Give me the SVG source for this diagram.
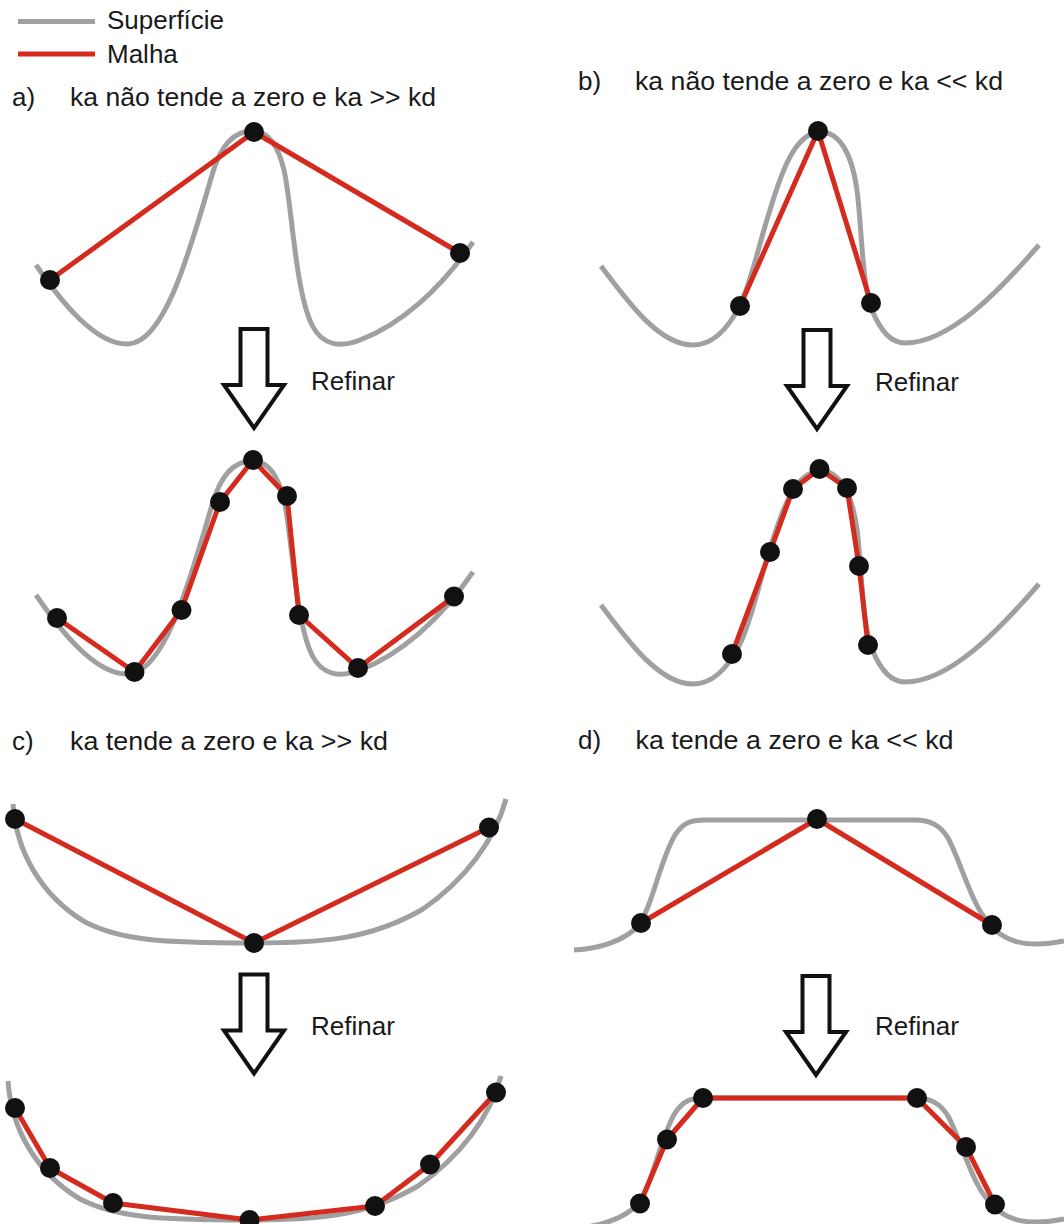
<svg xmlns="http://www.w3.org/2000/svg" width="1064" height="1224" viewBox="0 0 1064 1224">
<defs>
<style>
.surf{fill:none;stroke:#a0a0a0;stroke-width:5;stroke-linejoin:round}
.mesh{fill:none;stroke:#d52b1e;stroke-width:5;stroke-linejoin:round;stroke-linecap:round}
.dot{fill:#111111}
.txt{font-family:"Liberation Sans",Arial,Helvetica,sans-serif;font-size:26px;fill:#1a1a1a}
.arrow{fill:#ffffff;stroke:#111111;stroke-width:4;stroke-linejoin:miter}
</style>
<path id="curveA" d="M36,265 C60,300 95,345 128,344 C165,343 190,250 212,175 C222,140 238,130 254,131 C268,132 278,145 284,170 C292,205 295,290 312,325 C322,345 340,348 360,340 C400,325 440,290 473,242"/>
<path id="curveB" d="M601,266 C630,305 660,345 693,345 C715,345 730,325 740,305 C752,280 760,240 770,210 C782,170 795,135 818,132 C840,130 852,155 857,190 C862,230 862,285 872,310 C880,330 890,343 905,343 C950,343 1000,290 1039,245"/>
<path id="curveC" d="M13,804 C16,850 40,895 85,922 C120,940 160,943 254,943 C320,943 370,940 423,909 C465,880 495,840 506,799"/>
<path id="curveD" d="M574,950 C600,949 625,940 638,926 C652,908 660,860 675,835 C683,823 690,820 705,820 L915,820 C930,820 940,825 948,838 C960,860 972,905 988,922 C1000,938 1020,950 1064,941"/>
<path id="arrowShape" d="M-13.5,0 H13.5 V56 H30 L0,99 L-30,56 H-13.5 Z"/>
<circle id="node" r="10"/>
</defs>
<rect width="1064" height="1224" fill="#ffffff"/>

<g id="legend">
<line class="surf" x1="18" y1="21.5" x2="95" y2="21.5"/>
<text class="txt" x="107" y="28.5">Superfície</text>
<line class="mesh" x1="18" y1="54" x2="95" y2="54" style="stroke-linecap:butt"/>
<text class="txt" x="107" y="63">Malha</text>
</g>

<g id="titles">
<text class="txt" x="12" y="105.5">a)</text>
<text class="txt" x="70" y="105.5" textLength="366" lengthAdjust="spacingAndGlyphs">ka não tende a zero e ka &gt;&gt; kd</text>
<text class="txt" x="578" y="90">b)</text>
<text class="txt" x="635" y="90" textLength="368" lengthAdjust="spacingAndGlyphs">ka não tende a zero e ka &lt;&lt; kd</text>
<text class="txt" x="12" y="749.5">c)</text>
<text class="txt" x="70" y="749.5" textLength="318" lengthAdjust="spacingAndGlyphs">ka tende a zero e ka &gt;&gt; kd</text>
<text class="txt" x="578" y="749">d)</text>
<text class="txt" x="635.5" y="749" textLength="318" lengthAdjust="spacingAndGlyphs">ka tende a zero e ka &lt;&lt; kd</text>
</g>

<g id="arrows">
<use href="#arrowShape" class="arrow" transform="translate(254,329)"/>
<text class="txt" x="311" y="389.5">Refinar</text>
<use href="#arrowShape" class="arrow" transform="translate(817,330)"/>
<text class="txt" x="875" y="391">Refinar</text>
<use href="#arrowShape" class="arrow" transform="translate(254,974.5)"/>
<text class="txt" x="311" y="1034.5">Refinar</text>
<use href="#arrowShape" class="arrow" transform="translate(816,976)"/>
<text class="txt" x="875" y="1035">Refinar</text>
</g>

<g id="panel-a-coarse">
<use href="#curveA" class="surf"/>
<polyline class="mesh" points="50,280 254,132 460,253"/>
<use href="#node" class="dot" x="50" y="280"/>
<use href="#node" class="dot" x="254" y="132"/>
<use href="#node" class="dot" x="460" y="253"/>
</g>

<g id="panel-a-refined">
<use href="#curveA" class="surf" transform="translate(0,330)"/>
<polyline class="mesh" points="57,618 134.5,672 181.5,610 220,502 253,460 287,496 299,615 358,668 454,596.5"/>
<use href="#node" class="dot" x="57" y="618"/>
<use href="#node" class="dot" x="134.5" y="672"/>
<use href="#node" class="dot" x="181.5" y="610"/>
<use href="#node" class="dot" x="220" y="502"/>
<use href="#node" class="dot" x="253" y="460"/>
<use href="#node" class="dot" x="287" y="496"/>
<use href="#node" class="dot" x="299" y="615"/>
<use href="#node" class="dot" x="358" y="668"/>
<use href="#node" class="dot" x="454" y="596.5"/>
</g>

<g id="panel-b-coarse">
<use href="#curveB" class="surf"/>
<polyline class="mesh" points="740,306 818,131 871,303"/>
<use href="#node" class="dot" x="740" y="306"/>
<use href="#node" class="dot" x="818" y="131"/>
<use href="#node" class="dot" x="871" y="303"/>
</g>

<g id="panel-b-refined">
<use href="#curveB" class="surf" transform="translate(0,339)"/>
<polyline class="mesh" points="732,654 770,552 793,489 819.5,469 847,488 859,566 868,645"/>
<use href="#node" class="dot" x="732" y="654"/>
<use href="#node" class="dot" x="770" y="552"/>
<use href="#node" class="dot" x="793" y="489"/>
<use href="#node" class="dot" x="819.5" y="469"/>
<use href="#node" class="dot" x="847" y="488"/>
<use href="#node" class="dot" x="859" y="566"/>
<use href="#node" class="dot" x="868" y="645"/>
</g>

<g id="panel-c-coarse">
<use href="#curveC" class="surf"/>
<polyline class="mesh" points="15,819 254,943 489,827.5"/>
<use href="#node" class="dot" x="15" y="819"/>
<use href="#node" class="dot" x="254" y="943"/>
<use href="#node" class="dot" x="489" y="827.5"/>
</g>

<g id="panel-c-refined">
<use href="#curveC" class="surf" transform="translate(-5,277)"/>
<polyline class="mesh" points="15,1108 50,1168 113,1203 249.5,1220 375,1206 430,1164.5 496,1092.5"/>
<use href="#node" class="dot" x="15" y="1108"/>
<use href="#node" class="dot" x="50" y="1168"/>
<use href="#node" class="dot" x="113" y="1203"/>
<use href="#node" class="dot" x="249.5" y="1220"/>
<use href="#node" class="dot" x="375" y="1206"/>
<use href="#node" class="dot" x="430" y="1164.5"/>
<use href="#node" class="dot" x="496" y="1092.5"/>
</g>

<g id="panel-d-coarse">
<use href="#curveD" class="surf"/>
<polyline class="mesh" points="641,923 817,819 992,925"/>
<use href="#node" class="dot" x="641" y="923"/>
<use href="#node" class="dot" x="817" y="819"/>
<use href="#node" class="dot" x="992" y="925"/>
</g>

<g id="panel-d-refined">
<use href="#curveD" class="surf" transform="translate(0,278)"/>
<polyline class="mesh" points="640,1203.5 667,1139.5 703,1098 917,1098 966,1147 995,1204.5"/>
<use href="#node" class="dot" x="640" y="1203.5"/>
<use href="#node" class="dot" x="667" y="1139.5"/>
<use href="#node" class="dot" x="703" y="1098"/>
<use href="#node" class="dot" x="917" y="1098"/>
<use href="#node" class="dot" x="966" y="1147"/>
<use href="#node" class="dot" x="995" y="1204.5"/>
</g>
</svg>
